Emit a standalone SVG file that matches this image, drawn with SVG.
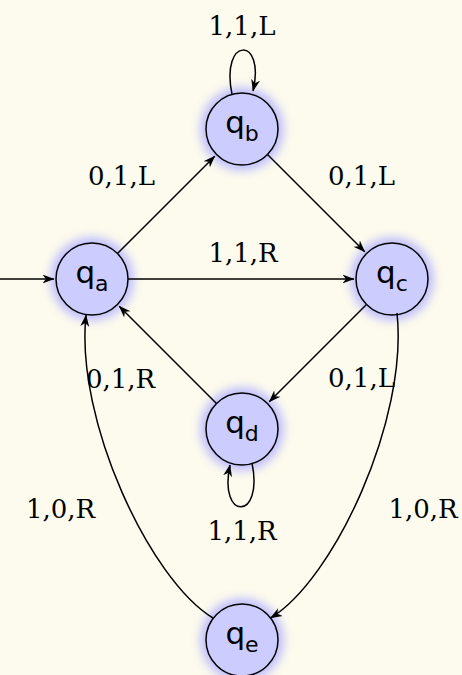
<svg xmlns="http://www.w3.org/2000/svg" width="462" height="675" viewBox="0 0 462 675">
<style>
.edge{fill:none;stroke:#000;stroke-width:1.5;marker-end:url(#ah)}
.glow{fill:#b8b8ff;opacity:0.9;filter:url(#blur)}
.node{fill:#ccccff;stroke:#000;stroke-width:1.5}
.nl{font-family:"DejaVu Sans",sans-serif;font-size:31px;fill:#000;text-anchor:middle}
.sub{font-size:22px}
.el{font-family:"DejaVu Serif",serif;font-size:26px;fill:#000;text-anchor:middle}
</style>
<defs>
<filter id="blur" x="-50%" y="-50%" width="200%" height="200%"><feGaussianBlur stdDeviation="5"/></filter>
<marker id="ah" markerWidth="14" markerHeight="12" refX="11.5" refY="6" orient="auto" markerUnits="userSpaceOnUse"><path d="M0,1.5 L12,6 L0,10.5 L3.5,6 Z" fill="#000"/></marker>
</defs>
<rect width="462" height="675" fill="#fdfbed"/>
<g id="qa"><circle class="glow" cx="92" cy="279" r="42"/><circle class="node" cx="92" cy="279" r="36"/><text class="nl" x="92" y="283">q<tspan class="sub" dy="8">a</tspan></text></g>
<g id="qb"><circle class="glow" cx="242" cy="129" r="42"/><circle class="node" cx="242" cy="129" r="36"/><text class="nl" x="242" y="133">q<tspan class="sub" dy="8">b</tspan></text></g>
<g id="qc"><circle class="glow" cx="392" cy="279" r="42"/><circle class="node" cx="392" cy="279" r="36"/><text class="nl" x="392" y="283">q<tspan class="sub" dy="8">c</tspan></text></g>
<g id="qd"><circle class="glow" cx="242" cy="429" r="42"/><circle class="node" cx="242" cy="429" r="36"/><text class="nl" x="242" y="433">q<tspan class="sub" dy="8">d</tspan></text></g>
<g id="qe"><circle class="glow" cx="242" cy="640" r="42"/><circle class="node" cx="242" cy="640" r="36"/><text class="nl" x="242" y="644">q<tspan class="sub" dy="8">e</tspan></text></g>
<g id="edges">
<path class="edge" d="M0,279 L54,279"/>
<path class="edge" d="M117.5,253.5 L214.8,156.2"/>
<path class="edge" d="M267.5,154.5 L364.8,251.8"/>
<path class="edge" d="M128,279 L354,279"/>
<path class="edge" d="M366.5,304.5 L269.2,401.8"/>
<path class="edge" d="M216.5,403.5 L119.2,306.2"/>
<path class="edge" d="M232,94 C220,36 266,36 253,91"/>
<path class="edge" d="M252,463 C264,521 218,521 230,465"/>
<path class="edge" d="M397,313 C408.5,420 333.5,580 270.5,618"/>
<path class="edge" d="M213,618 C150,580 75,420 86,315"/>
<text class="el" x="242" y="35">1,1,L</text>
<text class="el" x="121.5" y="185">0,1,L</text>
<text class="el" x="361.5" y="185">0,1,L</text>
<text class="el" x="243" y="262">1,1,R</text>
<text class="el" x="120.5" y="388">0,1,R</text>
<text class="el" x="361.5" y="387">0,1,L</text>
<text class="el" x="242" y="540">1,1,R</text>
<text class="el" x="60.5" y="518">1,0,R</text>
<text class="el" x="423" y="518">1,0,R</text>
</g>
</svg>
